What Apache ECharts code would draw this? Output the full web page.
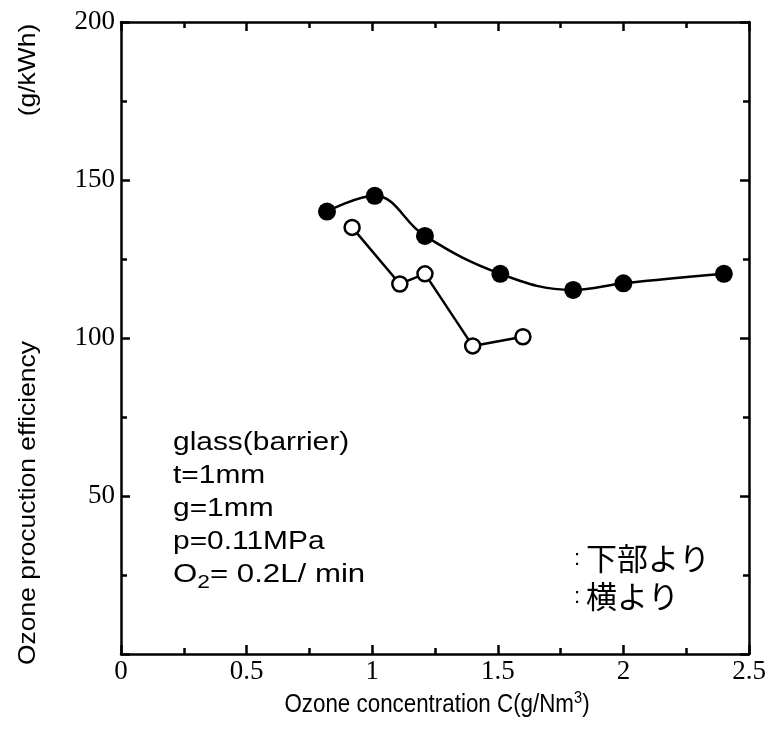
<!DOCTYPE html>
<html><head><meta charset="utf-8">
<script src="https://cdn.jsdelivr.net/npm/echarts@6/dist/echarts.min.js"></script>
<style>html,body{margin:0;padding:0;background:#fff}#c{width:782px;height:749px}</style>
</head><body><div id="c"></div>
<script>
var xTicks = [0, 0.5, 1, 1.5, 2, 2.5];
var yTicks = [0, 50, 100, 150, 200];
var fromBelowX = [0.82, 1.01, 1.21, 1.51, 1.80, 2.00, 2.40];
var fromBelowY = [140, 145, 132.3, 120.3, 115.2, 117.3, 120.3];
var fromSideX = [0.92, 1.11, 1.21, 1.40, 1.60];
var fromSideY = [135, 117.1, 120.3, 97.5, 100.4];
var legendNames = ['下部より', '横より'];
var notes = ['glass(barrier)', 't=1mm', 'g=1mm', 'p=0.11MPa'];

function pairs(xs, ys){ return xs.map(function(x,i){return [x, ys[i]];}); }

var chart = echarts.init(document.getElementById('c'));
var serif = '"Liberation Serif", "Times New Roman", serif';
var sans = '"Liberation Sans", Arial, sans-serif';
var axisCommon = {
  axisLine: {show: true, onZero: false, lineStyle: {color: '#000', width: 2.5}},
  axisTick: {show: true, inside: true, length: 9, lineStyle: {color: '#000', width: 2.5}},
  minorTick: {show: true, splitNumber: 2, length: 6, lineStyle: {color: '#000', width: 2.5}},
  splitLine: {show: false}
};
function ax(extra){ return Object.assign({}, JSON.parse(JSON.stringify(axisCommon)), extra); }

var noteGraphics = notes.map(function(t, i){
  return {type: 'text', left: 173, top: 430 + i * 33, scaleX: 1.15,
    style: {text: t, font: '26px ' + sans, fill: '#000'}};
});
noteGraphics.push({type: 'text', left: 173, top: 430 + 4 * 33, scaleX: 1.2,
  style: {text: '{a|O}{s|2}{a|= 0.2L/ min}', fill: '#000',
    rich: {a: {font: '26px ' + sans, fill: '#000'}, s: {font: '19px ' + sans, fill: '#000', padding: [16, 0, 0, 0]}}}});

chart.setOption({
  animation: false,
  grid: {left: 121, right: 33, top: 22, bottom: 95},
  xAxis: [
    ax({type: 'value', min: xTicks[0], max: xTicks[xTicks.length-1], interval: 0.5, position: 'bottom',
      axisLabel: {show: true, margin: 4, fontFamily: serif, fontSize: 27, color: '#000',
        formatter: function(v){ return String(v); }}}),
    ax({type: 'value', min: 0, max: 2.5, interval: 0.5, position: 'top', axisLabel: {show: false}})
  ],
  yAxis: [
    ax({type: 'value', min: yTicks[0], max: yTicks[yTicks.length-1], interval: 50, position: 'left',
      axisLabel: {show: true, margin: 6, fontFamily: serif, fontSize: 27, color: '#000',
        formatter: function(v){ return v === 0 ? '' : String(v); }}}),
    ax({type: 'value', min: 0, max: 200, interval: 50, position: 'right', axisLabel: {show: false}})
  ],
  series: [
    {type: 'line', name: legendNames[0], data: pairs(fromBelowX, fromBelowY), smooth: 0.4,
      symbol: 'circle', symbolSize: 18,
      lineStyle: {color: '#000', width: 2.5},
      itemStyle: {color: '#000', borderColor: '#000', borderWidth: 0}},
    {type: 'line', name: legendNames[1], data: pairs(fromSideX, fromSideY),
      symbol: 'circle', symbolSize: 15,
      lineStyle: {color: '#000', width: 2.5},
      itemStyle: {color: '#fff', borderColor: '#000', borderWidth: 2.5}, z: 3}
  ],
  graphic: noteGraphics.concat([
    {type: 'text', x: 28, y: 503, rotation: Math.PI/2, scaleX: 1.1, style: {text: 'Ozone procuction efficiency', font: '24px ' + sans, fill: '#000', align: 'center', verticalAlign: 'middle'}},
    {type: 'text', x: 28, y: 70, rotation: Math.PI/2, scaleX: 1.1, style: {text: '(g/kWh)', font: '24px ' + sans, fill: '#000', align: 'center', verticalAlign: 'middle'}},
    {type: 'text', x: 437, y: 705, scaleX: 0.86, style: {text: '{a|Ozone concentration C(g/Nm}{s|3}{a|)}', align: 'center', verticalAlign: 'middle',
      rich: {a: {font: '26px ' + sans, fill: '#000'}, s: {font: '17px ' + sans, fill: '#000', padding: [0, 0, 13, 0]}}}},
    {type: 'text', left: 574, top: 548, style: {text: ':', font: '22px ' + sans, fill: '#000'}},
    {type: 'text', left: 586, top: 543, style: {text: legendNames[0], font: '31px "Noto Sans CJK JP"', fill: '#000'}},
    {type: 'text', left: 574, top: 586, style: {text: ':', font: '22px ' + sans, fill: '#000'}},
    {type: 'text', left: 586, top: 581, style: {text: legendNames[1], font: '31px "Noto Sans CJK JP"', fill: '#000'}}
  ])
});
</script></body></html>
